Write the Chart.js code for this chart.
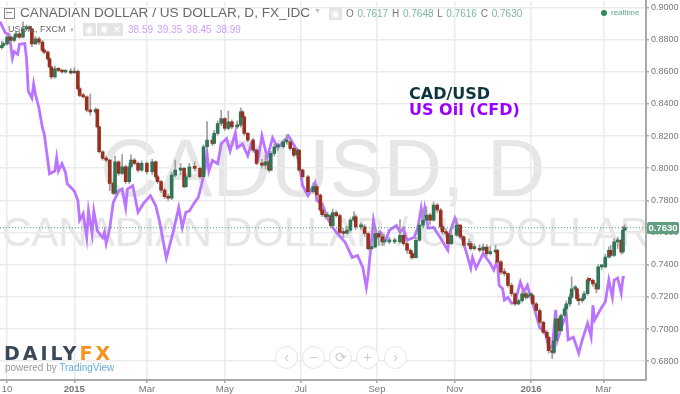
<!DOCTYPE html>
<html>
<head>
<meta charset="utf-8">
<script src="https://cdn.jsdelivr.net/npm/chart.js@4"></script>
<style>
body { margin: 0; background: #fff; overflow: hidden; font-family: "Liberation Sans", Arial, sans-serif; }
#wrap { position: relative; width: 680px; height: 394px; overflow: hidden; }
#wrap div, #wrap span.abs { position: absolute; white-space: nowrap; }
canvas { position: absolute; left: 0; top: -6px; z-index: 1; }
.mark { color: #e6e6e6; z-index: 0; }
.top { z-index: 2; }
.icon { width: 13px; height: 13px; background: #e4e4e4; color: #fff; font-size: 10px; line-height: 13px; text-align: center; }
.round { width: 21px; height: 21px; border: 1px solid #e4e4e4; border-radius: 50%; color: #ccc; font-size: 14px; line-height: 20px; text-align: center; z-index: 2; background: #fff; }
</style>
</head>
<body>
<div id="wrap">
  <div class="mark" style="left:100px;top:122px;font-size:81px;">CADUSD, D</div>
  <div class="mark" style="left:2px;top:209px;font-size:40.6px;">CANADIAN DOLLAR / US DOLLAR</div>

  <!-- canvas starts 6px above the page, the scale keeps that much room for its top label -->
  <canvas id="chart" width="680" height="406"></canvas>

  <div class="top" style="left:4px;top:8px;width:9px;height:9px;border:1px solid #888;"></div>
  <div class="top" style="left:6px;top:12px;width:6px;height:1px;background:#888;"></div>
  <div class="top" style="left:20px;top:5px;font-size:13.6px;color:#6a6a6a;">CANADIAN DOLLAR / US DOLLAR, D, FX_IDC</div>
  <div class="top" style="left:314px;top:7px;font-size:7px;color:#bbb;">▼</div>
  <div class="top icon" style="left:329px;top:7px;">◉</div>
  <div class="top" style="left:346px;top:8px;font-size:10px;color:#7fb89b;word-spacing:1px;">
    <span style="color:#777">O</span> 0.7617 <span style="color:#777">H</span> 0.7648 <span style="color:#777">L</span> 0.7616 <span style="color:#777">C</span> 0.7630
  </div>
  <div class="top" style="left:601px;top:10px;width:6px;height:6px;border-radius:50%;background:#2e8b5e;"></div>
  <div class="top" style="left:611px;top:8px;font-size:8px;color:#5fa583;">realtime</div>

  <div class="top" style="left:8px;top:24px;font-size:9px;color:#666;">USOIL, FXCM</div>
  <div class="top" style="left:69px;top:27px;font-size:6px;color:#bbb;">▼</div>
  <div class="top icon" style="left:83px;top:23px;">◉</div>
  <div class="top icon" style="left:97px;top:23px;">✱</div>
  <div class="top icon" style="left:110px;top:23px;">✕</div>
  <div class="top" style="left:128px;top:24px;font-size:10px;color:#cf9fff;word-spacing:1.5px;">38.59 39.35 38.45 38.99</div>

  <div class="top" style="left:409px;top:84px;font-family:'DejaVu Sans';font-weight:bold;font-size:16px;color:#0c3540;">CAD/USD</div>
  <div class="top" style="left:409px;top:100px;font-family:'DejaVu Sans';font-weight:bold;font-size:16px;color:#9a00ff;">US Oil (CFD)</div>

  <div class="top" style="left:4px;top:342px;font-family:'DejaVu Sans';font-weight:bold;font-size:19px;letter-spacing:3px;color:#3b4858;">DAILY<span style="color:#f7931e">FX</span></div>
  <div class="top" style="left:5px;top:362px;font-size:10px;color:#999;">powered by <span style="color:#63add6">TradingView</span></div>

  <div class="round" style="left:275px;top:346px;">‹</div>
  <div class="round" style="left:302px;top:346px;">−</div>
  <div class="round" style="left:329px;top:346px;">⟳</div>
  <div class="round" style="left:356px;top:346px;">+</div>
  <div class="round" style="left:384px;top:346px;">›</div>

  <div class="top" style="left:647px;top:222px;width:32px;height:12px;background:#5f9e7f;border-radius:2px;color:#fff;font-size:9.5px;font-weight:bold;line-height:12px;text-align:center;">0.7630</div>
</div>

<script>
// candles, one per session (session 0 = left edge)
const barSession = [1,2,4,6,8,9,11,13,15,17,18,20,22,24,25,27,28,29,31,33,35,37,40,42,44,45,47,49,51,54,55,56,58,60,62,64,65,67,69,71,73,74,76,78,80,83,86,88,89,91,93,95,97,99,102,104,105,107,110,113,115,117,120,121,123,125,127,129,131,134,136,137,138,140,143,145,148,150,152,153,155,157,160,162,164,166,168,169,171,174,177,179,181,182,184,185,187,188,190,192,194,196,198,200,201,204,206,208,210,212,214,216,217,220,223,226,228,230,232,233,235,237,239,241,243,245,247,249,250,252,253,255,258,260,262,265,266,268,271,273,275,277,280,281,283,285,287,289,291,293,295,297,298,300,301,303,305,307,309,310,312,313,314,316,317,319,320,322,323,325,326,327,329,330,332,333,335,337,338,340,342,344,345,347,349,351,352,353];
const barClose = [.8763,.8773,.8815,.8794,.8815,.8835,.8815,.8866,.8877,.8866,.8773,.8804,.8784,.8732,.8722,.8680,.8629,.8567,.8618,.8608,.8598,.8598,.8592,.8602,.8495,.8453,.8443,.8360,.8350,.8364,.8257,.8102,.8061,.8050,.7906,.7844,.8040,.7968,.8009,.7916,.8009,.8050,.8030,.7988,.8030,.7978,.8040,.7947,.7916,.7864,.7823,.7813,.7957,.7988,.7999,.7885,.7947,.8009,.7999,.7947,.8133,.8174,.8154,.8216,.8278,.8309,.8247,.8288,.8257,.8267,.8350,.8319,.8216,.8174,.8112,.8030,.8019,.8040,.7988,.8092,.8133,.8133,.8164,.8164,.8123,.8081,.8112,.7988,.7947,.7854,.7885,.7833,.7740,.7711,.7699,.7705,.7643,.7724,.7705,.7600,.7594,.7615,.7677,.7698,.7635,.7635,.7594,.7500,.7510,.7594,.7573,.7542,.7542,.7542,.7542,.7583,.7531,.7490,.7469,.7444,.7552,.7646,.7677,.7708,.7677,.7771,.7740,.7635,.7604,.7594,.7531,.7583,.7646,.7573,.7521,.7531,.7500,.7500,.7490,.7510,.7469,.7479,.7490,.7417,.7354,.7344,.7271,.7219,.7156,.7177,.7219,.7198,.7208,.7208,.7156,.7115,.7042,.6979,.6948,.6865,.6854,.6927,.7063,.6990,.7084,.7125,.7156,.7198,.7250,.7250,.7188,.7177,.7188,.7219,.7306,.7302,.7281,.7250,.7386,.7386,.7448,.7490,.7458,.7542,.7552,.7479,.7615,.7630];
const barHigh = [.8790,.8785,.8830,.8825,.8830,.8850,.8845,.8910,.8890,.8885,.8870,.8820,.8815,.8795,.8745,.8730,.8690,.8635,.8635,.8625,.8615,.8610,.8620,.8625,.8610,.8505,.8465,.8450,.8460,.8375,.8370,.8262,.8110,.8075,.8055,.7915,.8075,.8045,.8085,.8020,.8030,.8085,.8060,.8040,.8045,.8040,.8055,.8045,.7955,.7925,.7875,.7840,.7975,.8050,.8030,.8005,.7965,.8030,.8040,.8005,.8145,.8290,.8200,.8235,.8295,.8360,.8315,.8355,.8300,.8295,.8375,.8360,.8325,.8225,.8185,.8120,.8055,.8085,.8050,.8105,.8150,.8155,.8175,.8210,.8175,.8130,.8125,.8118,.7995,.7955,.7910,.7900,.7840,.7760,.7725,.7725,.7715,.7745,.7735,.7715,.7625,.7640,.7690,.7730,.7710,.7660,.7650,.7600,.7530,.7635,.7610,.7600,.7590,.7570,.7565,.7680,.7600,.7540,.7500,.7480,.7570,.7665,.7745,.7760,.7720,.7790,.7780,.7750,.7650,.7625,.7600,.7610,.7690,.7650,.7580,.7560,.7545,.7530,.7525,.7530,.7525,.7515,.7520,.7495,.7425,.7375,.7350,.7285,.7225,.7190,.7235,.7230,.7225,.7225,.7215,.7165,.7125,.7050,.6990,.6955,.6875,.6940,.7080,.7075,.7095,.7140,.7175,.7215,.7325,.7270,.7255,.7215,.7205,.7235,.7320,.7315,.7310,.7290,.7400,.7400,.7465,.7510,.7520,.7560,.7570,.7560,.7640,.7648];
const barLow = [.8740,.8755,.8765,.8780,.8785,.8810,.8805,.8810,.8860,.8855,.8755,.8770,.8770,.8720,.8710,.8670,.8620,.8555,.8560,.8600,.8590,.8590,.8585,.8590,.8485,.8445,.8435,.8350,.8330,.8340,.8250,.8095,.8050,.8040,.7860,.7835,.7840,.7955,.7960,.7905,.7905,.8000,.8020,.7975,.7980,.7965,.7960,.7935,.7905,.7850,.7810,.7800,.7805,.7945,.7960,.7875,.7880,.7940,.7985,.7935,.7940,.8125,.8140,.8150,.8205,.8265,.8235,.8240,.8245,.8245,.8255,.8310,.8205,.8165,.8100,.8020,.8000,.7995,.7975,.7985,.8075,.8110,.8125,.8150,.8110,.8070,.8060,.7980,.7935,.7845,.7845,.7825,.7730,.7700,.7685,.7690,.7630,.7640,.7695,.7590,.7570,.7590,.7600,.7670,.7620,.7620,.7575,.7490,.7490,.7505,.7520,.7520,.7520,.7530,.7530,.7535,.7520,.7470,.7440,.7435,.7440,.7545,.7635,.7670,.7650,.7670,.7725,.7620,.7590,.7575,.7520,.7525,.7575,.7560,.7510,.7515,.7490,.7490,.7480,.7480,.7455,.7460,.7470,.7405,.7340,.7330,.7260,.7205,.7145,.7150,.7165,.7185,.7190,.7190,.7145,.7100,.7030,.6970,.6935,.6850,.6815,.6845,.6920,.6975,.6985,.7070,.7115,.7140,.7190,.7235,.7175,.7150,.7165,.7180,.7210,.7285,.7265,.7225,.7245,.7370,.7380,.7440,.7445,.7450,.7500,.7465,.7470,.7616];
const firstOpen = .8750;

// US Oil, on its own hidden scale
const oilSession = [0,3,5,6,7,8,10,11,14,15,16,18,19,20,22,24,25,28,31,32,33,35,37,38,42,44,45,47,49,50,52,53,55,58,59,60,62,64,67,69,71,72,75,78,81,85,88,90,94,98,101,102,103,105,107,110,112,114,116,117,118,120,123,125,128,130,133,134,137,140,142,146,148,151,154,157,159,163,167,169,171,174,178,179,182,185,188,190,195,199,202,205,207,208,211,213,215,218,220,224,226,228,230,234,236,238,239,240,242,245,249,253,254,257,261,264,266,267,269,273,277,279,281,282,284,285,287,289,291,294,296,298,299,301,303,305,308,310,312,314,315,318,320,321,324,327,329,332,334,335,336,340,342,344,346,347,349,351,352,353];
const oilPrice = [77.5,75.8,75.6,74.1,72.0,73.0,72.6,74.1,74.2,71.9,67.0,66.0,68.1,66.6,64.5,61.5,60.6,54.6,55.0,57.0,55.0,56.1,54.8,53.1,52.0,50.6,47.6,48.6,45.0,49.0,45.6,49.0,46.0,45.0,45.8,44.1,46.4,50.3,52.0,52.3,49.5,52.3,52.8,48.8,50.1,51.3,49.8,47.6,41.9,46.0,49.5,48.0,46.5,48.8,49.0,50.3,51.0,53.1,55.5,57.6,55.0,56.6,56.1,59.1,59.9,58.0,60.8,58.5,59.1,57.3,59.1,57.0,60.3,57.0,60.0,58.5,59.1,60.3,58.5,56.1,52.8,51.3,53.2,50.6,50.1,47.9,46.5,45.8,44.3,42.0,42.3,40.5,37.5,39.3,47.6,45.0,45.8,44.6,46.1,46.8,45.8,46.4,44.6,45.0,46.4,49.4,47.6,49.4,46.4,46.5,44.9,43.1,45.6,47.9,45.0,42.3,40.4,42.0,40.4,42.6,41.1,40.1,41.6,37.8,37.3,35.6,36.0,35.1,35.2,38.3,36.8,37.8,36.8,35.1,33.3,31.4,30.8,28.5,28.4,34.1,29.6,32.1,33.3,29.6,30.0,27.6,29.6,32.1,30.0,34.8,32.6,34.5,35.3,38.6,36.0,38.6,38.9,36.6,39.0,39.0];

const lastPrice = 0.7630;
const priceTicks = [0.90, 0.88, 0.86, 0.84, 0.82, 0.80, 0.78, 0.76, 0.74, 0.72, 0.70, 0.68];
const timeTicks = [4, 42, 83, 127, 170, 213, 257, 300, 341];
const timeLabels = {4: '10', 42: '2015', 83: 'Mar', 127: 'May', 170: 'Jul', 213: 'Sep', 257: 'Nov', 300: '2016', 341: 'Mar'};
const boldTimes = [42, 300];

const UP = '#2f7556', DOWN = '#98301f';
const bodies = barSession.map((s, i) => ({x: s, y: [i ? barClose[i - 1] : firstOpen, barClose[i]]}));
const wicks = barSession.map((s, i) => ({x: s, y: [barLow[i], barHigh[i]]}));
const bodyColors = bodies.map(b => b.y[1] >= b.y[0] ? UP : DOWN);

const ctx = document.getElementById('chart').getContext('2d');
new Chart(ctx, {
    type: 'bar',
    data: {
        datasets: [
            {data: bodies, backgroundColor: bodyColors, barThickness: 3, minBarLength: 2, grouped: false, order: 1},
            {data: wicks, backgroundColor: '#9f9f9f', barThickness: 1, grouped: false, order: 2},
            {type: 'line', data: oilSession.map((s, i) => ({x: s, y: oilPrice[i]})), yAxisID: 'oil',
                borderColor: '#bb74ff', borderWidth: 2.8, pointRadius: 0, tension: 0, order: 3},
            {type: 'line', data: [{x: 0, y: lastPrice}, {x: 365, y: lastPrice}],
                borderColor: '#4f9a78', borderWidth: 1, borderDash: [1, 2], pointRadius: 0, order: 0}
        ]
    },
    options: {
        responsive: false,
        animation: false,
        layout: {padding: 0, autoPadding: false},
        plugins: {legend: {display: false}, tooltip: {enabled: false}},
        scales: {
            x: {
                type: 'linear', min: 0, max: 365, offset: false,
                grid: {offset: false, color: '#ebebeb', lineWidth: 1.5, tickLength: 3, tickColor: '#aaa'},
                border: {color: '#a9a9a9', width: 2},
                ticks: {
                    autoSkip: false, maxRotation: 0, padding: 1, color: '#777',
                    font: ctx => ({family: 'Liberation Sans', size: 9.5, weight: boldTimes.includes(ctx.tick && ctx.tick.value) ? 'bold' : 'normal'}),
                    callback: v => timeLabels[v]
                },
                afterBuildTicks: s => { s.ticks = timeTicks.map(v => ({value: v})); },
                afterFit: s => { s.height = 20; }
            },
            y: {
                type: 'linear', position: 'right', min: 0.6683, max: 0.9037,
                grid: {color: '#ebebeb', lineWidth: 1.5, tickLength: 3, tickColor: '#aaa'},
                border: {color: '#a9a9a9', width: 2},
                ticks: {
                    padding: 2, color: '#777', font: {family: 'Liberation Sans', size: 9},
                    callback: v => v.toFixed(4)
                },
                afterBuildTicks: s => { s.ticks = priceTicks.map(v => ({value: v})); },
                afterFit: s => { s.width = 34; }
            },
            oil: {type: 'linear', display: false, min: 23.55, max: 80.55}
        }
    }
});
</script>
</body>
</html>
